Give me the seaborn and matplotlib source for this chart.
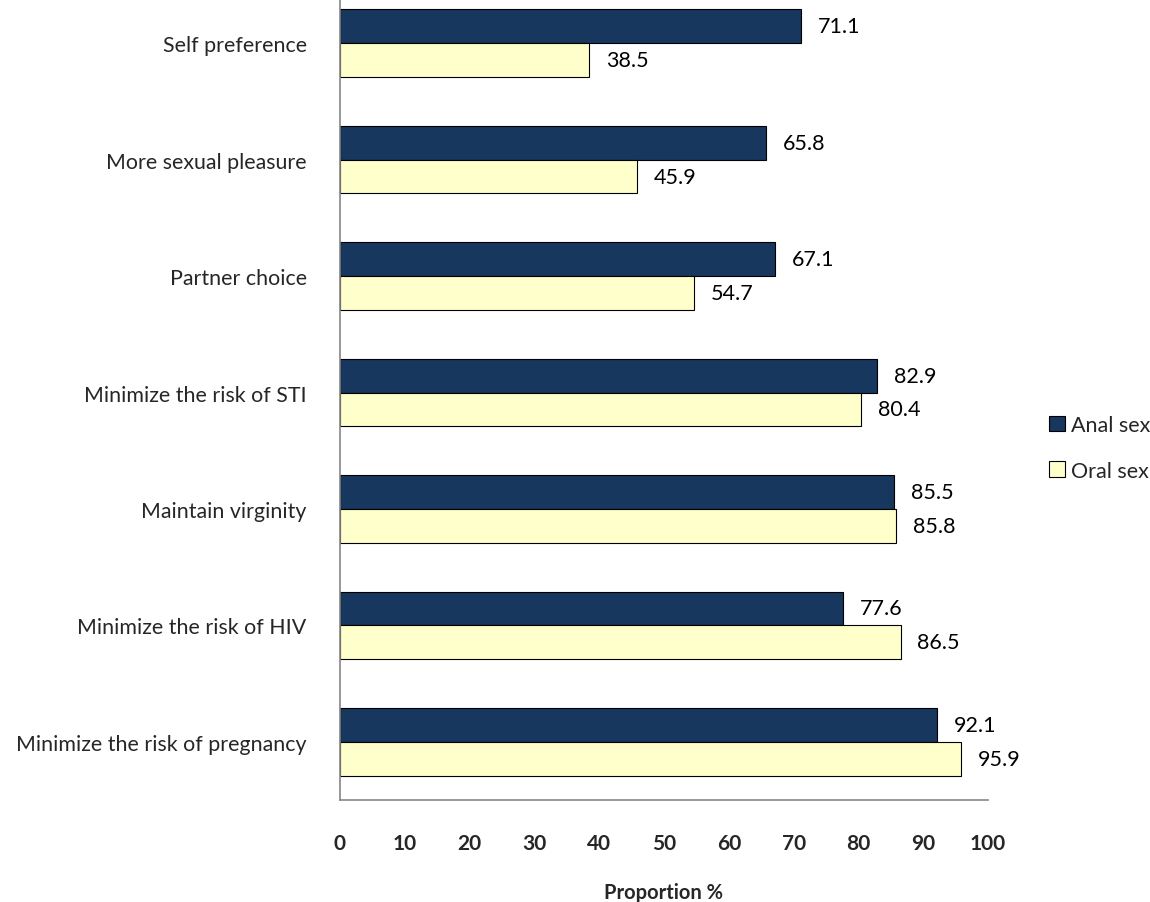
import matplotlib
matplotlib.use("Agg")
import matplotlib.pyplot as plt
import seaborn as sns
import pandas as pd

categories = ["Self preference", "More sexual pleasure", "Partner choice",
              "Minimize the risk of STI", "Maintain virginity",
              "Minimize the risk of HIV", "Minimize the risk of pregnancy"]
anal_sex = [71.1, 65.8, 67.1, 82.9, 85.5, 77.6, 92.1]
oral_sex = [38.5, 45.9, 54.7, 80.4, 85.8, 86.5, 95.9]
series_names = ["Anal sex", "Oral sex"]
x_ticks = [0, 10, 20, 30, 40, 50, 60, 70, 80, 90, 100]

df = pd.DataFrame({
    "Category": categories * 2,
    "Value": anal_sex + oral_sex,
    "Series": [series_names[0]] * len(categories) + [series_names[1]] * len(categories),
})

sns.set_style("white")
plt.rcParams["font.family"] = ["Lato", "DejaVu Sans"]

fig = plt.figure(figsize=(11.5, 9.03), dpi=100)
ax = fig.add_axes([340/1150, 102/903, 648/1150, 815/903])

palette = {"Anal sex": "#17375E", "Oral sex": "#FFFFCC"}
sns.barplot(data=df, y="Category", x="Value", hue="Series", order=categories,
            hue_order=series_names, palette=palette, orient="h", width=0.58,
            edgecolor="black", linewidth=0.8, saturation=1, ax=ax, legend=True)

for cont in ax.containers:
    ax.bar_label(cont, fmt="%.1f", padding=12, fontsize=15.5, color="black")

ax.set_xlim(0, 100)
ax.set_ylim(6.5, -0.5)
ax.set_xticks(x_ticks)
ax.set_xticklabels([str(t) for t in x_ticks], fontsize=15, fontweight="bold")
ax.tick_params(axis="x", direction="out", length=9, width=1, color="#868686", pad=15)
ax.tick_params(axis="y", length=0, labelsize=15.4, pad=24)
ax.set_ylabel("")
ax.set_xlabel("Proportion %", fontsize=14.5, fontweight="bold", labelpad=21)

for s in ["top", "right"]:
    ax.spines[s].set_visible(False)
for s in ["left", "bottom"]:
    ax.spines[s].set_color("#868686")
    ax.spines[s].set_linewidth(1.2)

leg = ax.legend(loc="center left", bbox_to_anchor=(1.064, 0.432), frameon=False,
                fontsize=15.5, handlelength=0.75, handleheight=0.75, handletextpad=0.3,
                labelspacing=1.2)
for h in leg.legend_handles:
    h.set_edgecolor("black")
    h.set_linewidth(0.8)

fig.savefig("out.png", dpi=100, facecolor="white")
